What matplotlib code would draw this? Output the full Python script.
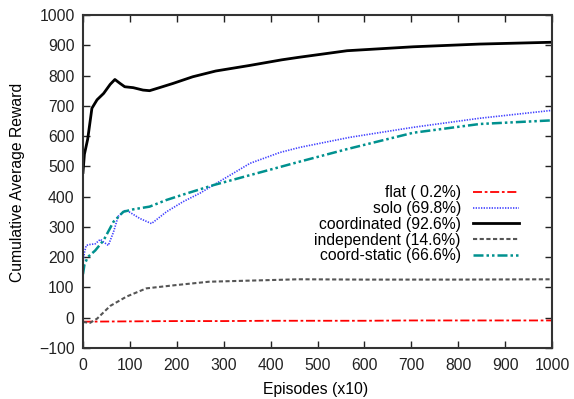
import numpy as np
import matplotlib.pyplot as plt

plt.rcParams['font.family'] = ['Liberation Sans', 'DejaVu Sans']

# episode positions (x10) and cumulative average reward for each run
flat_x = [0, 100, 200, 300, 400, 500, 600, 700, 800, 900, 1000]
flat_y = [-13, -12, -11, -11, -10, -10, -10, -9, -9, -9, -9]

solo_x = [0, 3, 7, 15, 26, 37, 44, 54, 65, 75, 90, 96, 121, 146, 178, 213, 250,
          278, 356, 420, 463, 569, 704, 846, 1000]
solo_y = [180, 215, 239, 242, 244, 259, 250, 239, 283, 335, 354, 352, 328, 311, 350,
          383, 412, 438, 510, 546, 563, 596, 629, 659, 685]

coord_x = [0, 3, 10, 19, 30, 44, 58, 68, 79, 89, 107, 128, 142, 163, 192, 234,
           283, 354, 424, 459, 563, 704, 846, 1000]
coord_y = [480, 540, 590, 692, 720, 741, 771, 787, 774, 763, 760, 752, 750, 760, 774,
           796, 815, 833, 852, 860, 882, 895, 904, 910]

indep_x = [0, 15, 30, 58, 93, 135, 199, 269, 389, 459, 600, 800, 1000]
indep_y = [-14, -17, -3, 39, 70, 97, 108, 119, 124, 127, 126, 126, 127]

static_x = [0, 3, 10, 26, 44, 65, 86, 107, 142, 178, 220, 278, 356, 463, 563,
            704, 846, 1000]
static_y = [144, 175, 200, 222, 256, 317, 350, 358, 367, 389, 410, 438, 471, 516,
            557, 611, 640, 652]

fs = 11.3  # one text size for ticks, labels and key

fig = plt.figure(figsize=(5.74, 3.99), dpi=100)
ax = fig.add_axes([0.1446, 0.1278, 0.8171, 0.8346])

ax.plot(flat_x, flat_y, color='#ff0000', lw=1.3, dashes=(5, 1.5, 1.5, 1.5),
        label='flat ( 0.2%)')
ax.plot(solo_x, solo_y, color='#4040ff', lw=1.2, dashes=(0.8, 0.8),
        label='solo (69.8%)')
ax.plot(coord_x, coord_y, color='black', lw=2.0, label='coordinated (92.6%)')
ax.plot(indep_x, indep_y, color='#555555', lw=1.5, dashes=(2, 1.2),
        label='independent (14.6%)')
ax.plot(static_x, static_y, color='#00918f', lw=1.8,
        dashes=(4, 1.2, 1, 1.2, 1, 1.2), label='coord-static (66.6%)')

ax.set_xlim(0, 1000)
ax.set_ylim(-100, 1000)
ax.set_xticks(np.arange(0, 1001, 100))
ax.set_yticks(np.arange(-100, 1001, 100))
ax.tick_params(direction='in', top=True, right=True, length=5, width=1,
               labelsize=fs, colors='#222222')
ax.tick_params(axis='x', pad=7)
ax.tick_params(axis='y', pad=6)
for s in ax.spines.values():
    s.set_linewidth(1.5)
    s.set_color('#333333')

ax.set_xlabel('Episodes (x10)', fontsize=fs, va='center')
ax.set_ylabel('Cumulative Average Reward', fontsize=fs, va='center')
ax.xaxis.set_label_coords(0.495, -0.126)
ax.yaxis.set_label_coords(-0.1397, 0.4985)

ax.legend(loc='upper right', bbox_to_anchor=(0.946, 0.512), frameon=False,
          markerfirst=False, handlelength=2.9, fontsize=fs, labelspacing=0.05,
          handletextpad=0.8, borderpad=0)

plt.savefig('out.png', dpi=100)
